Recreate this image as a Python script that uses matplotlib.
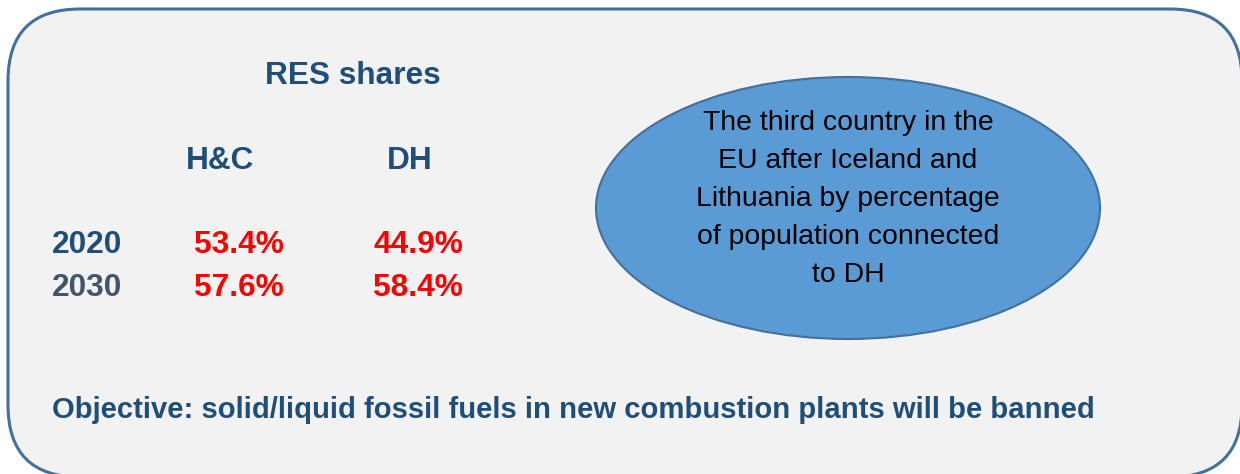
import matplotlib
matplotlib.use("Agg")
import matplotlib.pyplot as plt
from matplotlib.patches import FancyBboxPatch, Ellipse

# data shown in the panel
years = ["2020", "2030"]
year_colors = ["#1F4E79", "#44546A"]
columns = ["H&C", "DH"]
hc_share = [53.4, 57.6]
dh_share = [44.9, 58.4]
title = "RES shares"
bubble_text = ("The third country in the\nEU after Iceland and\nLithuania by percentage\n"
               "of population connected\nto DH")
objective = "Objective: solid/liquid fossil fuels in new combustion plants will be banned"

W, H = 1240, 474
fig = plt.figure(figsize=(W / 100, H / 100), dpi=100)
ax = fig.add_axes([0, 0, 1, 1])
ax.set_xlim(0, W)
ax.set_ylim(H, 0)
ax.axis("off")
plt.rcParams["font.family"] = ["Liberation Sans", "DejaVu Sans"]

# rounded background panel (runs past the right/bottom edges)
box = FancyBboxPatch((8 + 72, 9 + 72), 1242 - 8 - 144, 477 - 9 - 144,
                     boxstyle="round,pad=72", facecolor="#F2F2F2",
                     edgecolor="#41719C", linewidth=2.2)
ax.add_patch(box)

dark = "#1F4E79"
fs = 22.8
ax.text(353, 76, title, ha="center", va="center", fontsize=fs,
        fontweight="bold", color=dark)

col_x = [220, 410]
for name, x in zip(columns, col_x):
    ax.text(x, 161, name, ha="center", va="center", fontsize=fs,
            fontweight="bold", color=dark)

row_y = [245, 288]
val_x = [239, 418]
for i, yr in enumerate(years):
    ax.text(87, row_y[i], yr, ha="center", va="center", fontsize=fs,
            fontweight="bold", color=year_colors[i])
    ax.text(val_x[0], row_y[i], f"{hc_share[i]:.1f}%", ha="center", va="center",
            fontsize=fs, fontweight="bold", color="#FF0000")
    ax.text(val_x[1], row_y[i], f"{dh_share[i]:.1f}%", ha="center", va="center",
            fontsize=fs, fontweight="bold", color="#FF0000")

ell = Ellipse((848, 208), 504, 262, facecolor="#5B9BD5", edgecolor="#41719C",
              linewidth=1.5)
ax.add_patch(ell)
ax.text(848, 199, bubble_text, ha="center", va="center", fontsize=20.4,
        color="black", linespacing=1.61)

ax.text(52, 410, objective, ha="left", va="center", fontsize=21.1,
        fontweight="bold", color=dark)

fig.savefig("out.png", dpi=100)
